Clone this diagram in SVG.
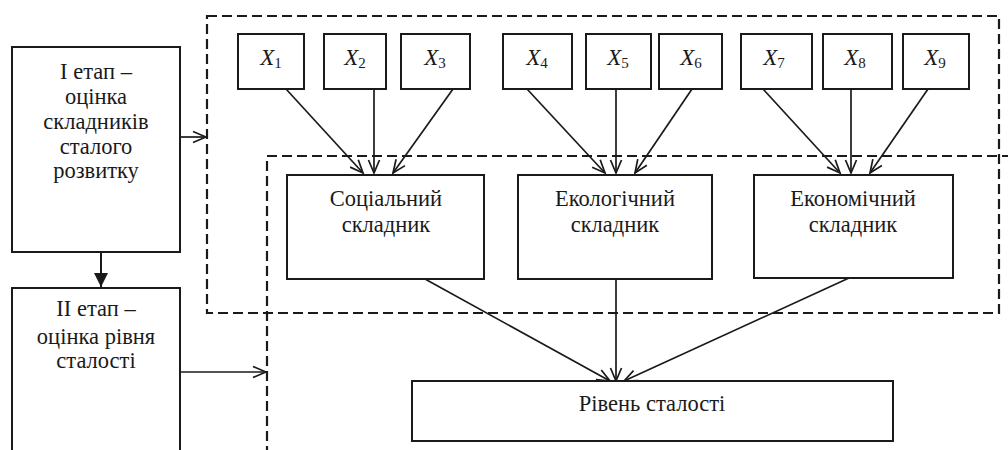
<svg xmlns="http://www.w3.org/2000/svg" width="1008" height="450" viewBox="0 0 1008 450" font-family="Liberation Serif">
<style>
.box{fill:#fff;stroke:#1a1a1a;stroke-width:2}
.dash{fill:none;stroke:#1a1a1a;stroke-width:2.2;stroke-dasharray:10 5}
.t{font-size:22.5px;fill:#1a1a1a;text-anchor:middle}
.xi{font-style:italic;font-size:23px}
.sub{font-size:15px}
.c{fill:none;stroke:#1a1a1a;stroke-width:1.7;marker-end:url(#open)}
</style>
<defs>
<marker id="open" markerUnits="userSpaceOnUse" markerWidth="16" markerHeight="14" refX="14" refY="6" orient="auto" viewBox="0 0 16 12">
<path d="M1,0.5 L14,6 L1,11.5" fill="none" stroke="#1a1a1a" stroke-width="1.7"/>
</marker>
<marker id="fill" markerUnits="userSpaceOnUse" markerWidth="16" markerHeight="16" refX="14" refY="7" orient="auto" viewBox="0 0 16 14">
<path d="M0,0 L14,7 L0,14 Z" fill="#1a1a1a"/>
</marker>
</defs>

<g id="groups">
<rect id="group1" class="dash" x="207" y="16" width="792" height="297"/>
<rect id="group2" class="dash" x="267" y="156" width="800" height="400"/>
</g>

<g id="connectors">
<line class="c" x1="180" y1="137" x2="206" y2="137"/>
<line x1="101" y1="252" x2="101" y2="287" stroke="#1a1a1a" stroke-width="2" marker-end="url(#fill)"/>
<line class="c" x1="180" y1="372" x2="266" y2="372"/>
<line class="c" x1="286" y1="89" x2="363" y2="173"/>
<line class="c" x1="374" y1="89" x2="374" y2="173"/>
<line class="c" x1="453" y1="89" x2="393" y2="173"/>
<line class="c" x1="527" y1="89" x2="605" y2="173"/>
<line class="c" x1="616" y1="89" x2="616" y2="173"/>
<line class="c" x1="692" y1="89" x2="635" y2="173"/>
<line class="c" x1="763" y1="89" x2="840" y2="173"/>
<line class="c" x1="851" y1="89" x2="851" y2="173"/>
<line class="c" x1="928" y1="89" x2="870" y2="173"/>
<line class="c" x1="425" y1="279" x2="610" y2="381"/>
<line class="c" x1="616" y1="279" x2="616" y2="381"/>
<line class="c" x1="849" y1="278" x2="624" y2="381"/>
</g>

<g id="stage1" font-family="Liberation Serif">
<rect class="box" x="12" y="47" width="168" height="205"/>
<text class="t" x="96" y="79">I етап –</text>
<text class="t" x="96" y="104">оцінка</text>
<text class="t" x="96" y="129">складників</text>
<text class="t" x="96" y="154">сталого</text>
<text class="t" x="96" y="178">розвитку</text>
</g>

<g id="stage2" font-family="Liberation Serif">
<rect class="box" x="12" y="288" width="168" height="200"/>
<text class="t" x="96" y="316">II етап –</text>
<text class="t" x="96" y="344">оцінка рівня</text>
<text class="t" x="96" y="368">сталості</text>
</g>

<g id="xboxes" font-family="Liberation Serif">
<g id="x1"><rect class="box" x="238" y="34" width="66" height="55"/><text class="t" x="271" y="65"><tspan class="xi">X</tspan><tspan class="sub" dy="3">1</tspan></text></g>
<g id="x2"><rect class="box" x="324" y="34" width="62" height="55"/><text class="t" x="355" y="65"><tspan class="xi">X</tspan><tspan class="sub" dy="3">2</tspan></text></g>
<g id="x3"><rect class="box" x="401" y="34" width="69" height="55"/><text class="t" x="435" y="65"><tspan class="xi">X</tspan><tspan class="sub" dy="3">3</tspan></text></g>
<g id="x4"><rect class="box" x="503" y="34" width="69" height="55"/><text class="t" x="537" y="65"><tspan class="xi">X</tspan><tspan class="sub" dy="3">4</tspan></text></g>
<g id="x5"><rect class="box" x="586" y="34" width="65" height="55"/><text class="t" x="618" y="65"><tspan class="xi">X</tspan><tspan class="sub" dy="3">5</tspan></text></g>
<g id="x6"><rect class="box" x="659" y="34" width="63" height="55"/><text class="t" x="691" y="65"><tspan class="xi">X</tspan><tspan class="sub" dy="3">6</tspan></text></g>
<g id="x7"><rect class="box" x="741" y="34" width="71" height="55"/><text class="t" x="774" y="65"><tspan class="xi">X</tspan><tspan class="sub" dy="3">7</tspan></text></g>
<g id="x8"><rect class="box" x="823" y="34" width="69" height="55"/><text class="t" x="855" y="65"><tspan class="xi">X</tspan><tspan class="sub" dy="3">8</tspan></text></g>
<g id="x9"><rect class="box" x="903" y="34" width="66" height="55"/><text class="t" x="935" y="65"><tspan class="xi">X</tspan><tspan class="sub" dy="3">9</tspan></text></g>
</g>

<g id="social" font-family="Liberation Serif">
<rect class="box" x="287" y="175" width="197" height="104"/>
<text class="t" x="386" y="206">Соціальний</text>
<text class="t" x="386" y="232">складник</text>
</g>
<g id="ecological" font-family="Liberation Serif">
<rect class="box" x="518" y="175" width="194" height="104"/>
<text class="t" x="615" y="206">Екологічний</text>
<text class="t" x="615" y="232">складник</text>
</g>
<g id="economic" font-family="Liberation Serif">
<rect class="box" x="754" y="175" width="199" height="103"/>
<text class="t" x="853" y="206">Економічний</text>
<text class="t" x="853" y="232">складник</text>
</g>

<g id="level" font-family="Liberation Serif">
<rect class="box" x="412" y="381" width="481" height="60"/>
<text class="t" x="652" y="411">Рівень сталості</text>
</g>
</svg>
